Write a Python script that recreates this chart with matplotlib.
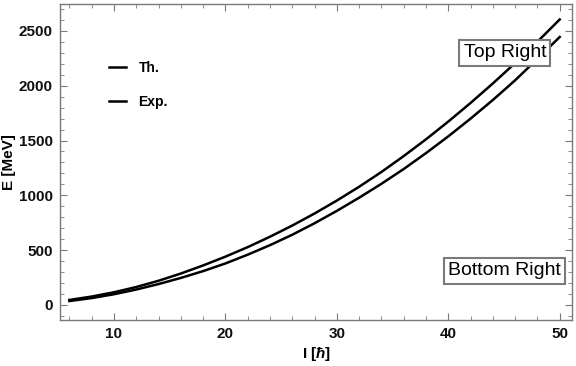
import numpy as np
import matplotlib.pyplot as plt
from matplotlib.ticker import MultipleLocator

# spin values and energies
spin = [6, 8, 10, 12, 14, 16, 18, 20, 22, 24, 26, 28, 30, 32, 34, 36, 38, 40, 42, 44, 46, 48, 50]
e_th = [45, 76, 115, 163, 220, 286, 360, 440, 527, 622, 724, 834, 952, 1078, 1213,
        1358, 1511, 1673, 1843, 2021, 2207, 2402, 2605]
e_exp = [35, 62, 97, 140, 190, 246, 308, 378, 458, 545, 640, 745, 858, 978, 1105,
         1240, 1385, 1538, 1700, 1870, 2050, 2245, 2445]

plt.rcParams['font.family'] = ['Liberation Sans', 'DejaVu Sans']
plt.rcParams['mathtext.fontset'] = 'custom'
plt.rcParams['mathtext.it'] = 'Liberation Sans:italic:bold'

fig = plt.figure(figsize=(5.76, 3.66), dpi=100)
ax = fig.add_axes([0.104, 0.126, 0.889, 0.863])

ax.plot(spin, e_th, color="black", linewidth=1.8, label="Th.")
ax.plot(spin, e_exp, color="black", linewidth=1.8, label="Exp.")

ax.set_xlim(5.15, 51.1)
ax.set_ylim(-137, 2746)

ax.xaxis.set_major_locator(MultipleLocator(10))
ax.xaxis.set_minor_locator(MultipleLocator(2))
ax.yaxis.set_major_locator(MultipleLocator(500))
ax.yaxis.set_minor_locator(MultipleLocator(100))

gray = "#7a7a7a"
for sp in ax.spines.values():
    sp.set_color(gray)
    sp.set_linewidth(1.0)
ax.tick_params(which="both", direction="in", top=True, right=True, color=gray,
               labelsize=11, pad=5, labelcolor="#111111")
ax.tick_params(which="major", length=5)
ax.tick_params(which="minor", length=3)
for lab in ax.get_xticklabels() + ax.get_yticklabels():
    lab.set_fontweight("bold")

ax.set_xlabel(r"I [$\it{\hbar}$]", fontsize=11, fontweight="bold")
ax.set_ylabel("E [MeV]", fontsize=11, fontweight="bold")
ax.xaxis.set_label_coords(0.502, -0.079)
ax.yaxis.set_label_coords(-0.086, 0.5)

ax.legend(loc="upper left", bbox_to_anchor=(0.072, 0.86), frameon=False,
          handlelength=1.2, handletextpad=0.9, labelspacing=1.45,
          prop={"weight": "bold", "size": 10})

box = dict(boxstyle="square,pad=0.22", facecolor="white", edgecolor=gray, linewidth=1.5)
ax.text(0.869, 0.845, "Top Right", transform=ax.transAxes, ha="center", va="center",
        fontsize=14, bbox=box)
ax.text(0.868, 0.155, "Bottom Right", transform=ax.transAxes, ha="center", va="center",
        fontsize=14, bbox=box)

plt.savefig("out.png", dpi=100)
